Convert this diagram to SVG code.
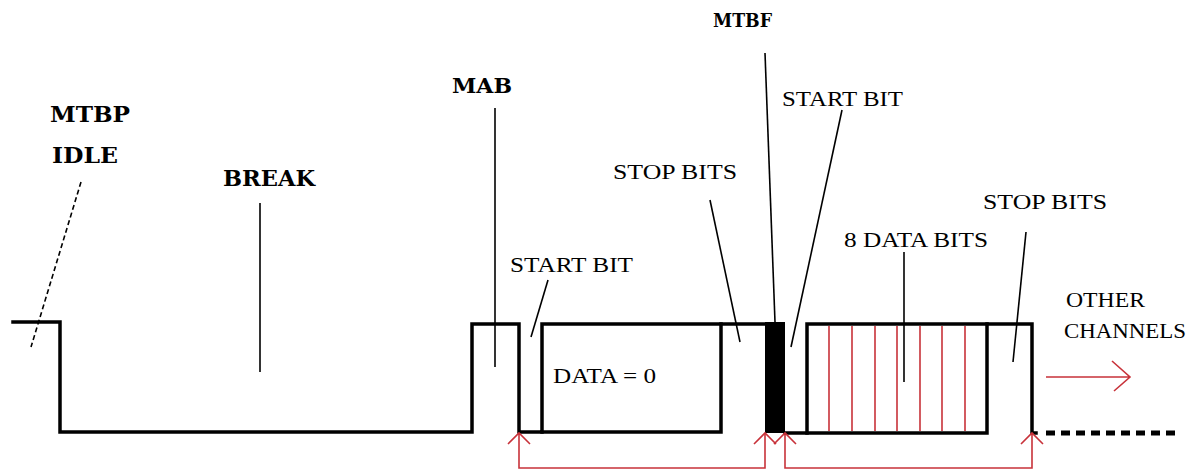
<svg xmlns="http://www.w3.org/2000/svg" width="1191" height="470" viewBox="0 0 1191 470">
<style>
.bg{fill:#fff}
.wave{fill:none;stroke:#000;stroke-width:3.5;stroke-linejoin:miter;stroke-linecap:square}
.lead{fill:none;stroke:#000;stroke-width:1.6}
.red{fill:none;stroke:#c8323a;stroke-width:1.6}
.bold{font-family:"DejaVu Serif","Liberation Serif",serif;font-weight:bold;fill:#000}
.lbl{font-family:"Liberation Serif","DejaVu Serif",serif;fill:#000}
</style>
<rect class="bg" x="0" y="0" width="1191" height="470"/>
<g id="waveform">
<path class="wave" d="M13,322 H60 V432 H472 V324 H519 V432 H542 V324 H765"/>
<path class="wave" d="M542,432 H721 V324"/>
<rect id="mtbf-block" x="765" y="322" width="20" height="111" fill="#000"/>
<path class="wave" d="M785,433 H987 V324"/>
<path class="wave" d="M807,433 V324 H1032 V433 H1036"/>
<path fill="none" stroke="#000" stroke-width="5" stroke-dasharray="9 6" d="M1046,433 H1180"/>
</g>
<g id="data-bits">
<path class="red" d="M829,326 V431 M852,326 V431 M875,326 V431 M897,326 V431 M920,326 V431 M942,326 V431 M965,326 V431"/>
</g>
<g id="connectors">
<path class="lead" stroke-dasharray="5 3" d="M81,182 L31,347"/>
<path class="lead" d="M260,203 V372"/>
<path class="lead" d="M495,108 V367"/>
<path class="lead" d="M548,280 L531,337"/>
<path class="lead" d="M710,200 L740,342"/>
<path class="lead" d="M765,53 L775,322"/>
<path class="lead" d="M842,110 L791,347"/>
<path class="lead" d="M904,252 V382"/>
<path class="lead" d="M1026,232 L1013,362"/>
<path class="red" d="M519,434 V468 H765 V434"/>
<path class="red" d="M785,434 V468 H1032 V434"/>
<path class="red" d="M508,444 L519,433 L530,444 M754,444 L765,433 L776,444 M774,444 L785,433 L796,444 M1021,444 L1032,433 L1043,444"/>
<path class="red" d="M1046,377 H1130 M1112,361 L1130,377 L1114,391"/>
</g>
<g id="label-mtbp"><text class="bold" x="50" y="122" font-size="22" textLength="80" lengthAdjust="spacingAndGlyphs">MTBP</text></g>
<g id="label-idle"><text class="bold" x="52" y="163" font-size="22" textLength="66" lengthAdjust="spacingAndGlyphs">IDLE</text></g>
<g id="label-break"><text class="bold" x="223" y="186" font-size="22" textLength="92" lengthAdjust="spacingAndGlyphs">BREAK</text></g>
<g id="label-mab"><text class="bold" x="452" y="93" font-size="20" textLength="60" lengthAdjust="spacingAndGlyphs">MAB</text></g>
<g id="label-mtbf"><text class="bold" x="713" y="27" font-size="19" font-weight="normal" textLength="59" lengthAdjust="spacingAndGlyphs">MTBF</text></g>
<g id="label-start1"><text class="lbl" x="510" y="272" font-size="21" textLength="123" lengthAdjust="spacingAndGlyphs">START BIT</text></g>
<g id="label-stop1"><text class="lbl" x="613" y="179" font-size="21" textLength="124" lengthAdjust="spacingAndGlyphs">STOP BITS</text></g>
<g id="label-data0"><text class="lbl" x="553" y="383" font-size="21" textLength="103" lengthAdjust="spacingAndGlyphs">DATA = 0</text></g>
<g id="label-start2"><text class="lbl" x="782" y="106" font-size="21" textLength="121" lengthAdjust="spacingAndGlyphs">START BIT</text></g>
<g id="label-8data"><text class="lbl" x="844" y="247" font-size="21" textLength="144" lengthAdjust="spacingAndGlyphs">8 DATA BITS</text></g>
<g id="label-stop2"><text class="lbl" x="983" y="209" font-size="21" textLength="124" lengthAdjust="spacingAndGlyphs">STOP BITS</text></g>
<g id="label-other"><text class="lbl" x="1066" y="307" font-size="20" textLength="79" lengthAdjust="spacingAndGlyphs">OTHER</text>
<text class="lbl" x="1064" y="338" font-size="20" textLength="122" lengthAdjust="spacingAndGlyphs">CHANNELS</text></g>
</svg>
